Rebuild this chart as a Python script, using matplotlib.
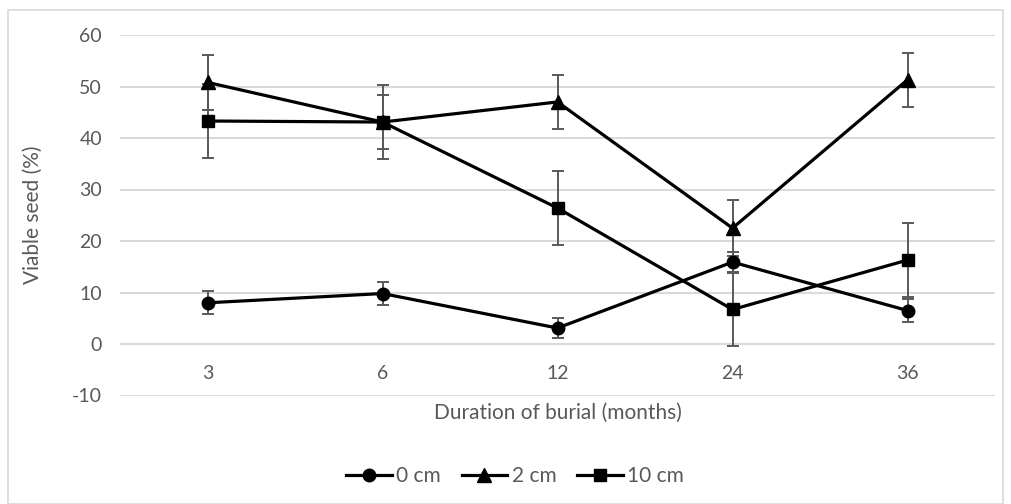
import matplotlib
matplotlib.use("Agg")
import matplotlib.pyplot as plt
from matplotlib.patches import Rectangle

plt.rcParams['font.family'] = ['Lato', 'DejaVu Sans']
plt.rcParams['axes.unicode_minus'] = False

months = ["3", "6", "12", "24", "36"]
series_names = ["0 cm", "2 cm", "10 cm"]
vals_0 = [8.0, 9.8, 3.1, 15.9, 6.5]
err_0 = [2.2, 2.2, 1.9, 2.0, 2.2]
vals_2 = [50.8, 43.1, 47.0, 22.5, 51.3]
err_2 = [5.3, 7.2, 5.2, 5.5, 5.3]
vals_10 = [43.3, 43.1, 26.4, 6.7, 16.3]
err_10 = [7.1, 5.3, 7.2, 7.0, 7.2]
markers = ["o", "^", "s"]

grey = "#595959"
grid = "#d9d9d9"

fig = plt.figure(figsize=(10.12, 5.04), dpi=100)
fig.patches.append(Rectangle((8/1012, 0), (1003-8)/1012, 1 - 10/504, transform=fig.transFigure,
                             fill=False, edgecolor=grid, linewidth=1.2))
ax = fig.add_axes([120/1012, 1 - 395.5/504, (995-120)/1012, (395.5-35)/504])

x = list(range(len(months)))
for vals, errs, mk, name in zip([vals_0, vals_2, vals_10], [err_0, err_2, err_10], markers, series_names):
    ax.errorbar(x, vals, yerr=errs, fmt='none', ecolor=grey, elinewidth=1.4, capsize=4.5, capthick=1.4, zorder=2)
    ax.plot(x, vals, color='black', lw=2.3, marker=mk, markersize=9 if mk != "^" else 9.5,
            label=name, zorder=3)

ax.set_xlim(-0.5, len(months) - 0.5)
ax.set_ylim(-10, 60)
ax.set_yticks(range(-10, 61, 10))
ax.set_xticks(x)
ax.set_xticklabels(months)
ax.yaxis.grid(True, color=grid, linewidth=1.4)
ax.set_axisbelow(True)
for s in ax.spines.values():
    s.set_visible(False)
ax.spines['bottom'].set_position(('data', 0))
ax.tick_params(axis='both', length=0, colors=grey, labelsize=14)
ax.tick_params(axis='x', pad=15)
ax.tick_params(axis='y', pad=13)

fig.text(558/1012, 1 - 413/504, "Duration of burial (months)", ha='center', va='center', color=grey, fontsize=15)
fig.text(33/1012, 1 - 215/504, "Viable seed (%)", ha='center', va='center', rotation=90, color=grey, fontsize=15)

leg = fig.legend(loc='center', bbox_to_anchor=(515/1012, 1 - 476/504), ncol=3, frameon=False,
                 fontsize=15, handlelength=2.2, handletextpad=0.2, columnspacing=1.0, borderpad=0)
for t in leg.get_texts():
    t.set_color(grey)

fig.savefig("out.png", dpi=100)
